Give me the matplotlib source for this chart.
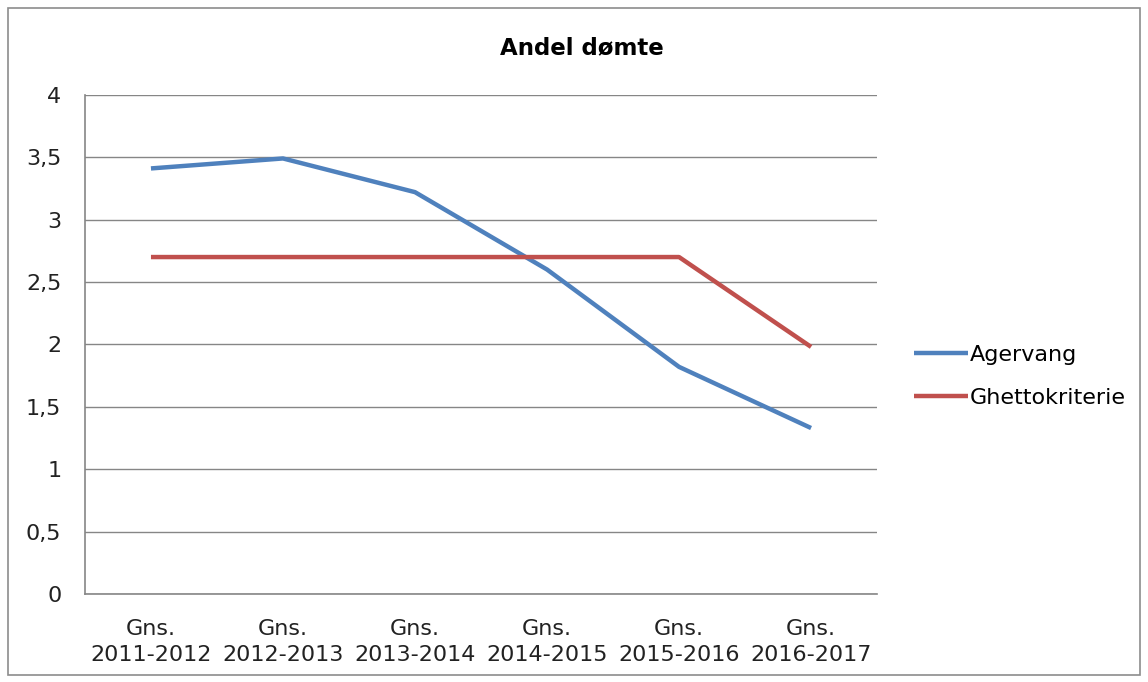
import matplotlib.pyplot as plt
from matplotlib.patches import Rectangle

plt.rcParams['font.family'] = ['DejaVu Sans']

categories = ["Gns.\n2011-2012", "Gns.\n2012-2013", "Gns.\n2013-2014",
              "Gns.\n2014-2015", "Gns.\n2015-2016", "Gns.\n2016-2017"]
agervang = [3.41, 3.49, 3.22, 2.6, 1.82, 1.33]
ghetto = [2.7, 2.7, 2.7, 2.7, 2.7, 1.98]
yticks = [0, 0.5, 1, 1.5, 2, 2.5, 3, 3.5, 4]
ylabels = ["0", "0,5", "1", "1,5", "2", "2,5", "3", "3,5", "4"]

fig = plt.figure(figsize=(11.48, 6.82), dpi=100)
fig.patches.append(Rectangle((0.007, 0.01), 0.986, 0.978, transform=fig.transFigure,
                             fill=False, edgecolor="#8c8c8c", linewidth=1.2))
ax = fig.add_axes([0.074, 0.129, 0.69, 0.732])

x = range(len(categories))
ax.plot(x, agervang, color="#4F81BD", linewidth=3.2, label="Agervang", solid_capstyle="butt")
ax.plot(x, ghetto, color="#C0504D", linewidth=3.2, label="Ghettokriterie", solid_capstyle="butt")

ax.set_xlim(-0.5, len(categories) - 0.5)
ax.set_ylim(0, 4)
ax.set_yticks(yticks)
ax.set_yticklabels(ylabels)
ax.set_xticks(list(x))
ax.set_xticklabels(categories, linespacing=1.4)
ax.tick_params(axis="both", length=0, labelsize=16, colors="#222222")
ax.tick_params(axis="y", pad=17)
ax.tick_params(axis="x", pad=18)
ax.yaxis.grid(True, color="#868686", linewidth=1)
ax.set_axisbelow(True)
for s in ["top", "right"]:
    ax.spines[s].set_visible(False)
for s in ["left", "bottom"]:
    ax.spines[s].set_color("#868686")
    ax.spines[s].set_linewidth(1.2)

fig.text(0.507, 0.93, "Andel dømte", ha="center", va="center", fontsize=16.5, fontweight="bold")

fig.legend(loc="center left", bbox_to_anchor=(0.779, 0.448), frameon=False, fontsize=16,
           handlelength=2.4, handletextpad=0.1, labelspacing=1.05)

fig.savefig("out.png", dpi=100)
